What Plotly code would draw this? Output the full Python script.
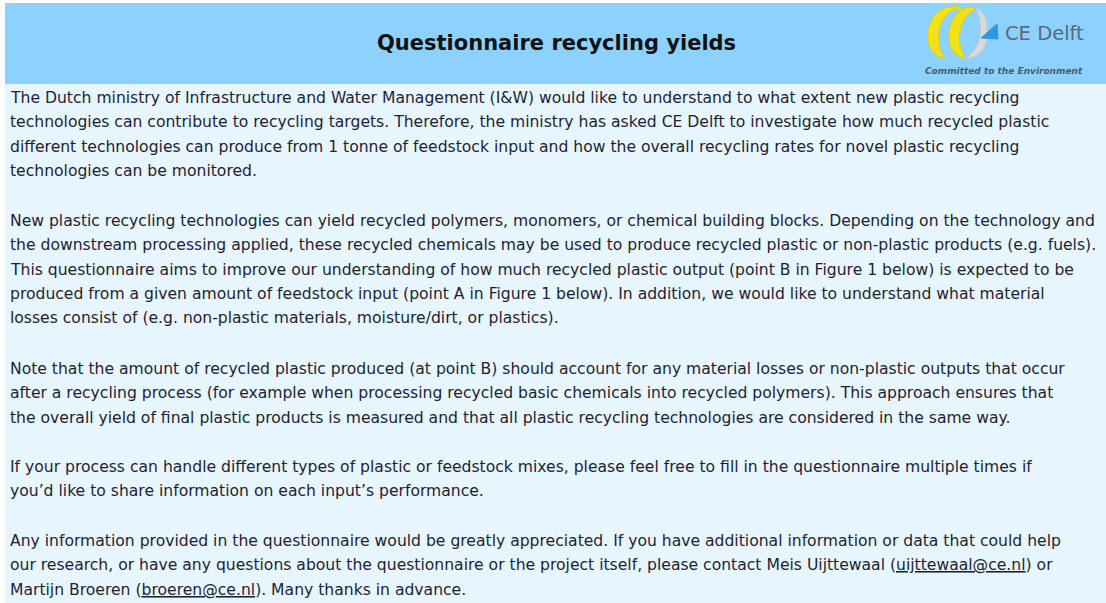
import plotly.graph_objects as go

W, H = 1106, 603

title_text = "Questionnaire recycling yields"
logo_name = "CE Delft"
logo_tagline = "Committed to the Environment"

paragraph_1 = [
    "The Dutch ministry of Infrastructure and Water Management (I&amp;W) would like to understand to what extent new plastic recycling",
    "technologies can contribute to recycling targets. Therefore, the ministry has asked CE Delft to investigate how much recycled plastic",
    "different technologies can produce from 1 tonne of feedstock input and how the overall recycling rates for novel plastic recycling",
    "technologies can be monitored.",
]
paragraph_2 = [
    "New plastic recycling technologies can yield recycled polymers, monomers, or chemical building blocks. Depending on the technology and",
    "the downstream processing applied, these recycled chemicals may be used to produce recycled plastic or non-plastic products (e.g. fuels).",
    "This questionnaire aims to improve our understanding of how much recycled plastic output (point B in Figure 1 below) is expected to be",
    "produced from a given amount of feedstock input (point A in Figure 1 below). In addition, we would like to understand what material",
    "losses consist of (e.g. non-plastic materials, moisture/dirt, or plastics).",
]
paragraph_3 = [
    "Note that the amount of recycled plastic produced (at point B) should account for any material losses or non-plastic outputs that occur",
    "after a recycling process (for example when processing recycled basic chemicals into recycled polymers). This approach ensures that",
    "the overall yield of final plastic products is measured and that all plastic recycling technologies are considered in the same way.",
]
paragraph_4 = [
    "If your process can handle different types of plastic or feedstock mixes, please feel free to fill in the questionnaire multiple times if",
    "you\u2019d like to share information on each input\u2019s performance.",
]
paragraph_5 = [
    "Any information provided in the questionnaire would be greatly appreciated. If you have additional information or data that could help",
    "our research, or have any questions about the questionnaire or the project itself, please contact Meis Uijttewaal (<u>uijttewaal@ce.nl</u>) or",
    "Martijn Broeren (<u>broeren@ce.nl</u>). Many thanks in advance.",
]
paragraphs = [paragraph_1, paragraph_2, paragraph_3, paragraph_4, paragraph_5]
paragraph_tops = [98, 221, 369, 467, 541]
line_step = 24.3

HEADER_BG = "#8dd2ff"
BODY_BG = "#e7f5ff"
TEXT = "#1e1e32"
FONT = "DejaVu Sans"

fig = go.Figure()
fig.add_trace(go.Scatter(x=[0, W], y=[0, H], mode="markers",
                         marker=dict(opacity=0), hoverinfo="skip", showlegend=False))

shapes = [
    dict(type="rect", x0=5, x1=W, y0=3, y1=84, fillcolor=HEADER_BG, line=dict(width=0), layer="below"),
    dict(type="rect", x0=5, x1=W, y0=84, y1=H, fillcolor=BODY_BG, line=dict(width=0), layer="below"),
    # logo: two yellow crescents
    dict(type="path", path="M 951,7 C 924,8 919,56 945,58 C 935,48 935,17 955,9 Z",
         fillcolor="#f2e21c", line=dict(color="#e6d200", width=1)),
    dict(type="path", path="M 951,7 C 958,5 963,8 963,13 C 959,9 956,9 955,9 Z",
         fillcolor="#f2e21c", line=dict(color="#e6d200", width=1)),
    dict(type="path", path="M 972,7 C 945,8 940,56 966,58 C 956,48 956,17 976,9 Z",
         fillcolor="#f2e21c", line=dict(color="#e6d200", width=1)),
    # grey swoosh
    dict(type="path", path="M 972,7 C 990,8 991,40 983,50 C 978,56 972,58 966,58 C 977,50 982,40 980,22 C 979,14 977,10 976,9 Z",
         fillcolor="#d9d9d9", line=dict(color="#c6c6c6", width=1)),
    # blue arrow head
    dict(type="path", path="M 981,38 L 997,24 L 998,39 Z",
         fillcolor="#2a9be0", line=dict(color="#2a9be0", width=1)),
]

annotations = [
    dict(x=556, y=43, text="<b>" + title_text + "</b>", showarrow=False,
         font=dict(family=FONT, size=21, color="#111111"), xanchor="center", yanchor="middle"),
    dict(x=1003, y=33, text=logo_name, showarrow=False,
         font=dict(family=FONT, size=19.5, color="#5b6a78"), xanchor="left", yanchor="middle"),
    dict(x=1004, y=71, text="<b><i>" + logo_tagline + "</i></b>", showarrow=False,
         font=dict(family=FONT, size=9, color="#4b5b6b"), xanchor="center", yanchor="middle"),
]
for top, para in zip(paragraph_tops, paragraphs):
    for i, line in enumerate(para):
        annotations.append(dict(x=8, y=top + i * line_step, text=line, showarrow=False,
                                font=dict(family=FONT, size=15.6, color=TEXT),
                                xanchor="left", yanchor="middle"))

fig.update_layout(
    width=W, height=H, margin=dict(l=0, r=0, t=0, b=0),
    paper_bgcolor="white", plot_bgcolor="white",
    xaxis=dict(range=[0, W], visible=False, fixedrange=True),
    yaxis=dict(range=[H, 0], visible=False, fixedrange=True),
    shapes=shapes, annotations=annotations, showlegend=False,
)
fig.write_html("out.html", config={"displayModeBar": False},
               post_script="document.body.style.margin='0';document.body.style.overflow='hidden';")
